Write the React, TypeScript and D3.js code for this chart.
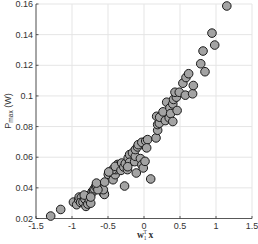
import React from "react";
import * as d3 from "d3";

const xVals = [
  -1.296, -1.157, -0.98, -0.935, -0.907, -0.9, -0.87, -0.88, -0.847, -0.82, -0.806, -0.78, -0.77, -0.76, -0.74, -0.74,
  -0.72, -0.7, -0.69, -0.67, -0.66, -0.83, -0.74, -0.56, -0.556, -0.55, -0.565, -0.64, -0.66, -0.546, -0.496, -0.45,
  -0.43, -0.4, -0.39, -0.435, -0.49, -0.366, -0.35, -0.4, -0.32, -0.31, -0.28, -0.26, -0.23, -0.27, -0.22, -0.2,
  -0.2, -0.16, -0.13, -0.12, -0.12, -0.107, -0.09, -0.08, -0.05, -0.03, -0.01, 0.014, -0.03, 0.024, 0.05, 0.037,
  0.093, 0.167, 0.19, 0.19, 0.176, 0.213, 0.218, 0.264, 0.296, 0.315, 0.35, 0.36, 0.37, 0.4, 0.4, 0.41,
  0.45, 0.43, 0.46, 0.49, 0.54, 0.574, 0.583, 0.62, 0.675, 0.685, 0.788, 0.82, 0.847, 0.944, 0.982, 1.15,
  -0.226,
];
const yVals = [
  0.0216, 0.0259, 0.0307, 0.029, 0.0322, 0.034, 0.0337, 0.0305, 0.0307, 0.0327, 0.0279, 0.0294, 0.0344, 0.0322, 0.0357, 0.03,
  0.0375, 0.0379, 0.0394, 0.0409, 0.0416, 0.0353, 0.034, 0.0366, 0.0362, 0.0357, 0.0388, 0.0388, 0.0431, 0.0438, 0.0488, 0.0497,
  0.0453, 0.0486, 0.0519, 0.0519, 0.0504, 0.0553, 0.0545, 0.054, 0.0514, 0.0562, 0.0536, 0.0558, 0.0519, 0.0412, 0.0595, 0.0617,
  0.0567, 0.0628, 0.0571, 0.0606, 0.065, 0.0497, 0.0667, 0.0682, 0.0591, 0.0551, 0.053, 0.0573, 0.0697, 0.0706, 0.0715, 0.0661,
  0.0458, 0.0726, 0.0776, 0.0813, 0.0867, 0.0822, 0.0861, 0.0896, 0.0839, 0.0959, 0.0857, 0.0922, 0.0885, 0.0833, 0.0948, 0.0977,
  0.0992, 0.1024, 0.0905, 0.1024, 0.1083, 0.1005, 0.112, 0.1145, 0.1014, 0.1068, 0.121, 0.1293, 0.1158, 0.141, 0.1332, 0.1587,
  0.0538,
];

const xTicks = [-1.5, -1, -0.5, 0, 0.5, 1, 1.5];
const yTicks = [0.02, 0.04, 0.06, 0.08, 0.1, 0.12, 0.14, 0.16];

export default function App() {
  const W = 258, H = 244;
  const left = 36, right = 252, top = 4, bottom = 218.5;
  const x = d3.scaleLinear().domain([-1.5, 1.5]).range([left, right]);
  const y = d3.scaleLinear().domain([0.02, 0.16]).range([bottom, top]);
  const font = "'Liberation Sans', Arial, sans-serif";
  const tc = "#333333";
  const fmt = (v: number) => String(+v.toFixed(2));
  return (
    <svg width={W} height={H} style={{ position: "absolute", left: 0, top: 0 }}>
      <rect x={0} y={0} width={W} height={H} fill="#fff" />
      {xTicks.map((t) => (
        <line key={"gx" + t} x1={x(t)} x2={x(t)} y1={top} y2={bottom} stroke="#e5e5e5" strokeWidth={1} />
      ))}
      {yTicks.map((t) => (
        <line key={"gy" + t} x1={left} x2={right} y1={y(t)} y2={y(t)} stroke="#e5e5e5" strokeWidth={1} />
      ))}
      <line x1={left} x2={left} y1={top} y2={bottom} stroke={tc} strokeWidth={0.8} />
      <line x1={left} x2={right} y1={bottom} y2={bottom} stroke={tc} strokeWidth={0.8} />
      {xTicks.map((t) => (
        <g key={"xt" + t}>
          <line x1={x(t)} x2={x(t)} y1={bottom} y2={bottom - 2.5} stroke={tc} strokeWidth={0.8} />
          <text x={x(t)} y={bottom + 10} fontSize={9} fontFamily={font} fill={tc} textAnchor="middle">
            {fmt(t)}
          </text>
        </g>
      ))}
      {yTicks.map((t) => (
        <g key={"yt" + t}>
          <line x1={left} x2={left + 2.5} y1={y(t)} y2={y(t)} stroke={tc} strokeWidth={0.8} />
          <text x={left - 3} y={y(t) + 3} fontSize={9} fontFamily={font} fill={tc} textAnchor="end">
            {fmt(t)}
          </text>
        </g>
      ))}
      {xVals.map((v, i) => (
        <circle key={i} cx={x(v)} cy={y(yVals[i])} r={4.3} fill="#a3a3a3" stroke="#1a1a1a" strokeWidth={1} />
      ))}
      <text x={145} y={238} fontSize={9.5} fontFamily="'Liberation Serif', 'Times New Roman', serif" fill={tc} textAnchor="middle">
        <tspan fontWeight="bold">w</tspan>
        <tspan fontSize={5.5} dy={2}>1</tspan>
        <tspan fontSize={5.5} dx={-3} dy={-6}>T</tspan>
        <tspan dy={4} dx={1.5} fontWeight="bold">x</tspan>
      </text>
      <text transform={`translate(11,111) rotate(-90)`} fontSize={9} fontFamily={font} fill={tc} textAnchor="middle">
        <tspan>P</tspan>
        <tspan fontSize={6.5} dy={2}>max</tspan>
        <tspan dy={-2}> (W)</tspan>
      </text>
    </svg>
  );
}
